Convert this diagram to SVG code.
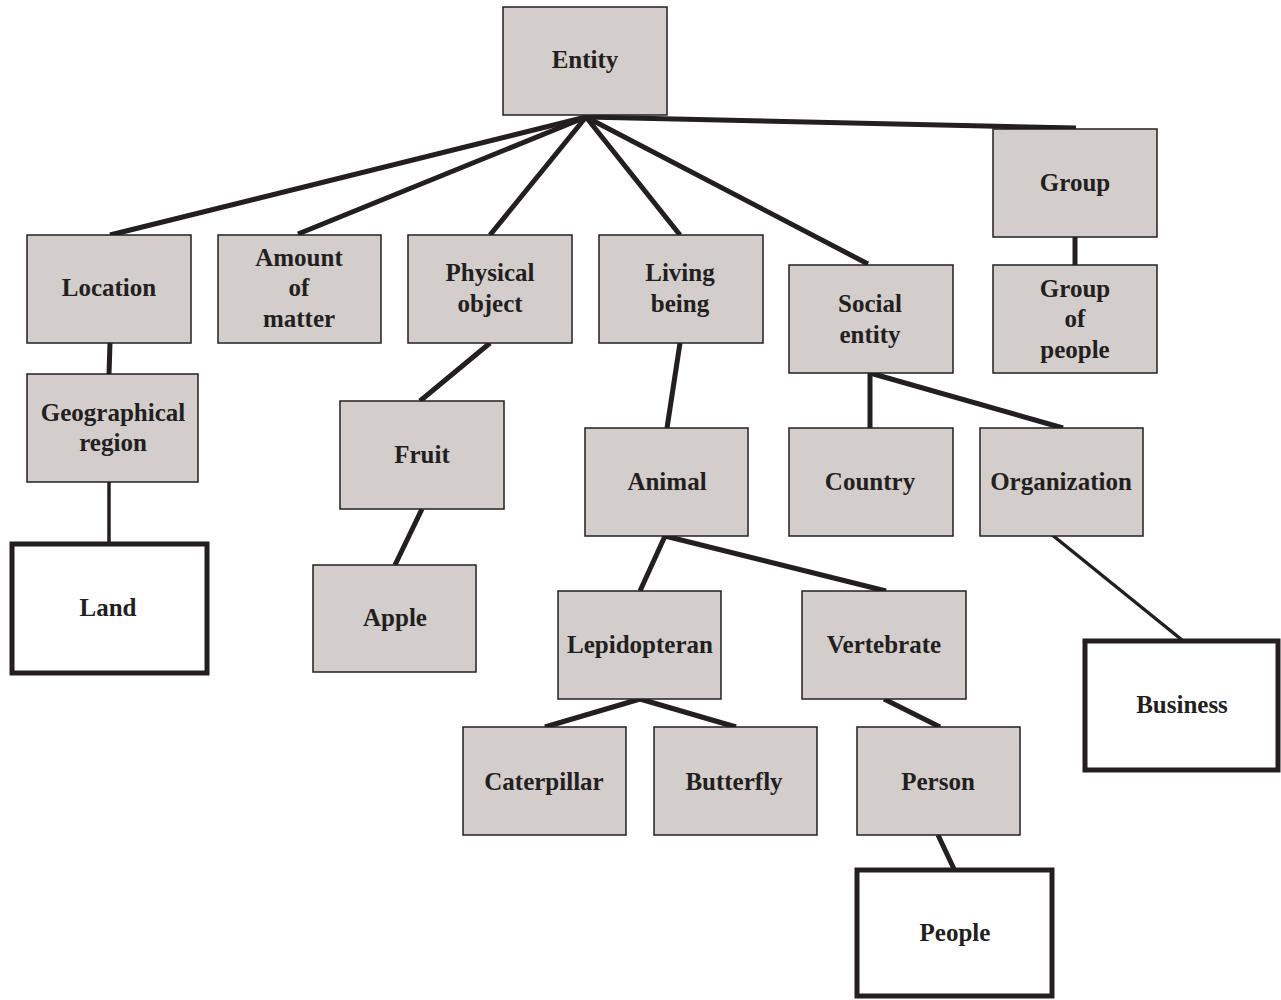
<svg xmlns="http://www.w3.org/2000/svg" width="1281" height="1000" viewBox="0 0 1281 1000">
<style>
.n{fill:#d3cdcb;stroke:#231f20;stroke-width:1.5}
.t{fill:#fff;stroke:#231f20;stroke-width:5}
text{font-family:"Liberation Serif","Times New Roman",serif;font-weight:bold;font-size:25px;fill:#231f20;text-anchor:middle}
.c line{stroke:#231f20;stroke-width:5;stroke-linecap:butt}
.c line.th{stroke-width:3.5}
</style>
<rect width="1281" height="1000" fill="#fff"/>
<g class="c" id="connectors">
<line x1="586" y1="117" x2="110" y2="235"/>
<line x1="586" y1="117" x2="298" y2="234"/>
<line x1="586" y1="117" x2="490" y2="235"/>
<line x1="586" y1="117" x2="680" y2="235"/>
<line x1="586" y1="117" x2="868" y2="264"/>
<line x1="586" y1="117" x2="1076" y2="128"/>
<line x1="110" y1="343" x2="109" y2="374"/>
<line class="th" x1="109" y1="482" x2="109" y2="544"/>
<line x1="490" y1="343" x2="420" y2="401"/>
<line x1="422" y1="509" x2="395" y2="565"/>
<line x1="680" y1="343" x2="667" y2="428"/>
<line x1="665" y1="536" x2="640" y2="591"/>
<line x1="665" y1="536" x2="886" y2="591"/>
<line x1="640" y1="699" x2="545" y2="727"/>
<line x1="640" y1="699" x2="736" y2="727"/>
<line x1="884" y1="699" x2="940" y2="727"/>
<line x1="938" y1="835" x2="954" y2="869"/>
<line x1="870" y1="373" x2="870" y2="428"/>
<line x1="870" y1="373" x2="1063" y2="428"/>
<line x1="1075" y1="237" x2="1075" y2="265"/>
<line class="th" x1="1051" y1="534" x2="1182" y2="640"/>
</g>
<g id="entity"><rect class="n" x="503" y="7" width="164" height="108"/><text x="585" y="68">Entity</text></g>
<g id="group"><rect class="n" x="993" y="129" width="164" height="108"/><text x="1075" y="191">Group</text></g>
<g id="location"><rect class="n" x="27" y="235" width="164" height="108"/><text x="109" y="296">Location</text></g>
<g id="amount-of-matter"><rect class="n" x="218" y="235" width="163" height="108"/><text x="299" y="266">Amount</text><text x="299" y="296">of</text><text x="299" y="327">matter</text></g>
<g id="physical-object"><rect class="n" x="408" y="235" width="164" height="108"/><text x="490" y="281">Physical</text><text x="490" y="312">object</text></g>
<g id="living-being"><rect class="n" x="599" y="235" width="164" height="108"/><text x="680" y="281">Living</text><text x="680" y="312">being</text></g>
<g id="social-entity"><rect class="n" x="789" y="265" width="164" height="108"/><text x="870" y="312">Social</text><text x="870" y="343">entity</text></g>
<g id="group-of-people"><rect class="n" x="993" y="265" width="164" height="108"/><text x="1075" y="297">Group</text><text x="1075" y="327">of</text><text x="1075" y="358">people</text></g>
<g id="geographical-region"><rect class="n" x="27" y="374" width="171" height="108"/><text x="113" y="421">Geographical</text><text x="113" y="451">region</text></g>
<g id="fruit"><rect class="n" x="340" y="401" width="164" height="108"/><text x="422" y="463">Fruit</text></g>
<g id="animal"><rect class="n" x="585" y="428" width="163" height="108"/><text x="667" y="490">Animal</text></g>
<g id="country"><rect class="n" x="789" y="428" width="164" height="108"/><text x="870" y="490">Country</text></g>
<g id="organization"><rect class="n" x="980" y="428" width="163" height="108"/><text x="1061" y="490">Organization</text></g>
<g id="land"><rect class="t" x="12" y="544" width="195" height="129"/><text x="108" y="616">Land</text></g>
<g id="apple"><rect class="n" x="313" y="565" width="163" height="107"/><text x="395" y="626">Apple</text></g>
<g id="lepidopteran"><rect class="n" x="558" y="591" width="163" height="108"/><text x="640" y="653">Lepidopteran</text></g>
<g id="vertebrate"><rect class="n" x="802" y="591" width="164" height="108"/><text x="884" y="653">Vertebrate</text></g>
<g id="caterpillar"><rect class="n" x="463" y="727" width="163" height="108"/><text x="544" y="790">Caterpillar</text></g>
<g id="butterfly"><rect class="n" x="654" y="727" width="163" height="108"/><text x="734" y="790">Butterfly</text></g>
<g id="person"><rect class="n" x="857" y="727" width="163" height="108"/><text x="938" y="790">Person</text></g>
<g id="people"><rect class="t" x="857" y="870" width="195" height="126"/><text x="955" y="941">People</text></g>
<g id="business"><rect class="t" x="1085" y="641" width="193" height="129"/><text x="1182" y="713">Business</text></g>
</svg>
